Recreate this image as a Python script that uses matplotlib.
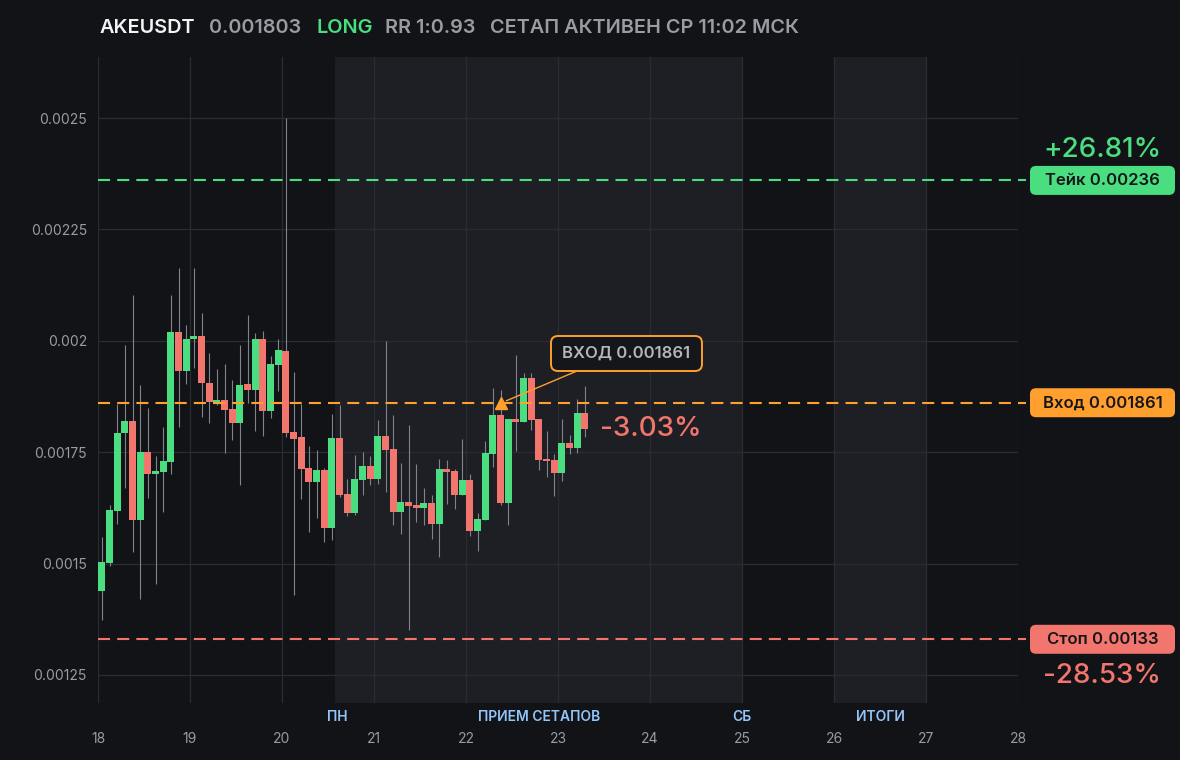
import matplotlib
matplotlib.use("Agg")
import matplotlib.pyplot as plt
from matplotlib.patches import FancyBboxPatch
import numpy as np

# ---------------- data ----------------
symbol = "AKEUSDT"
last_price = "0.001803"
side = "LONG"
rr_text = "RR 1:0.93"
status_text = "СЕТАП АКТИВЕН СР 11:02 МСК"

opens = [0.001438, 0.001501, 0.001618, 0.001792, 0.001821, 0.001598, 0.001751, 0.0017015,
         0.001706, 0.0017285, 0.002019, 0.001933, 0.002003, 0.00201, 0.001906, 0.001862,
         0.001866, 0.001848, 0.001816, 0.001902, 0.00189, 0.002003, 0.001843, 0.001945,
         0.001978, 0.001796, 0.001783, 0.001715, 0.001684, 0.00171, 0.00158, 0.0017825,
         0.001656, 0.001614, 0.001688, 0.00172, 0.00169, 0.001787, 0.0017578, 0.001616,
         0.001638, 0.001632, 0.001625, 0.0016363, 0.001589, 0.001713, 0.0017083, 0.0016543,
         0.001688, 0.001573, 0.001597, 0.0017455, 0.0018333, 0.0016353, 0.0018243, 0.0018175,
         0.0019165, 0.0018243, 0.0017343, 0.001732, 0.0017028, 0.0017703, 0.001759, 0.0018378]
highs = [0.00156, 0.001632, 0.001858, 0.00199, 0.002102, 0.0019, 0.00185, 0.001742,
         0.001807, 0.002102, 0.002163, 0.002035, 0.002163, 0.002062, 0.001972, 0.001936,
         0.001947, 0.001913, 0.00199, 0.002059, 0.0020165, 0.002021, 0.001965, 0.002005,
         0.0025, 0.001931, 0.001859, 0.0017645, 0.0017555, 0.001715, 0.0018365, 0.0018568,
         0.00169, 0.001744, 0.001751, 0.001742, 0.001823, 0.0020, 0.001834, 0.0017263,
         0.0018118, 0.001724, 0.00167, 0.0016543, 0.0017353, 0.001733, 0.001713, 0.00178,
         0.0017015, 0.0016138, 0.0017748, 0.001894, 0.00189, 0.0018243, 0.0019683, 0.0019278,
         0.0019278, 0.001825, 0.0017973, 0.0017455, 0.0018243, 0.0017883, 0.0018693, 0.0018985]
lows = [0.001373, 0.001495, 0.001589, 0.00167, 0.001526, 0.00142, 0.0016475, 0.001454,
        0.001616, 0.0017, 0.001807, 0.001904, 0.00194, 0.00183, 0.001816, 0.001855,
        0.001749, 0.001778, 0.001677, 0.001861, 0.0017983, 0.001787, 0.0018275, 0.001888,
        0.001785, 0.00143, 0.001645, 0.001571, 0.0016015, 0.0015485, 0.001553, 0.00165,
        0.001607, 0.001609, 0.001654, 0.0016768, 0.001679, 0.001661, 0.001587, 0.0015665,
        0.0013505, 0.0015935, 0.0015868, 0.0015553, 0.0015148, 0.001634, 0.0016228, 0.001654,
        0.001562, 0.0015283, 0.001597, 0.0017163, 0.001631, 0.0015858, 0.0017523, 0.0018175,
        0.0017995, 0.0017095, 0.0016938, 0.001651, 0.0016848, 0.0017455, 0.0017478, 0.0017838]
closes = [0.0015035, 0.00162, 0.001794, 0.001821, 0.001598, 0.001751, 0.0017015, 0.001708,
          0.0017308, 0.0020188, 0.0019333, 0.002005, 0.00201, 0.001906, 0.0018635, 0.001866,
          0.0018455, 0.0018163, 0.0019018, 0.00189, 0.002003, 0.0018433, 0.0019468, 0.0019783,
          0.001794, 0.00178, 0.001713, 0.0016835, 0.0017105, 0.00158, 0.0017825, 0.0016543,
          0.0016138, 0.00169, 0.0017195, 0.00169, 0.001787, 0.0017555, 0.001616, 0.0016383,
          0.00163, 0.001625, 0.0016363, 0.001589, 0.001713, 0.0017063, 0.0016543, 0.001688,
          0.0015733, 0.0016003, 0.0017478, 0.0018333, 0.0016353, 0.0018243, 0.0018175, 0.0019165,
          0.001822, 0.001732, 0.0017298, 0.0017028, 0.0017703, 0.001759, 0.0018378, 0.001803]

start_day = 18.0
candle_hours = 2.0

entry_price = 0.001861
take_price = 0.00236
stop_price = 0.00133
entry_candle = 52
take_pct = "+26.81%"
stop_pct = "-28.53%"
current_pct = "-3.03%"

yticks = [0.00125, 0.0015, 0.00175, 0.002, 0.00225, 0.0025]
ytick_labels = ["0.00125", "0.0015", "0.00175", "0.002", "0.00225", "0.0025"]
xticks = [18, 19, 20, 21, 22, 23, 24, 25, 26, 27, 28]

zones = [(20.58, 25.0), (26.0, 27.0)]
zone_labels = [("ПН", 20.6), ("ПРИЕМ СЕТАПОВ", 22.79), ("СБ", 25.0), ("ИТОГИ", 26.5)]

# ---------------- style ----------------
BG = "#121317"
ZONE = "#1e1f24"
GRID = "#2a2c32"
GREEN = "#4ade80"
RED = "#f2756e"
ORANGE = "#ff9f2e"
WICK = "#80838b"
GRAY = "#9a9ca3"
BLUE = "#93c5fd"
FONT = ["Inter", "DejaVu Sans"]

plt.rcParams["font.family"] = FONT

W, H = 1180, 760
fig = plt.figure(figsize=(W / 100, H / 100), dpi=100, facecolor=BG)
ax = fig.add_axes([98 / W, 1 - 703 / H, (1018 - 98) / W, (703 - 57) / H])
ax.set_facecolor(BG)
ax.set_xlim(18, 28)
ax.set_ylim(0.001187, 0.002637)

for a, b in zones:
    ax.axvspan(a, b, color=ZONE, lw=0, zorder=0)

for x in xticks:
    ax.axvline(x, color=GRID, lw=0.9, zorder=0.5)
for y in yticks:
    ax.axhline(y, color=GRID, lw=0.9, zorder=0.5)

for s in ax.spines.values():
    s.set_visible(False)

ax.set_xticks(xticks)
ax.set_xticklabels([str(x) for x in xticks])
ax.set_yticks(yticks)
ax.set_yticklabels(ytick_labels)
ax.tick_params(axis="x", length=0, pad=21, labelsize=10, labelcolor=GRAY)
ax.tick_params(axis="y", length=0, pad=8, labelsize=10, labelcolor=GRAY)

# candles
o = np.array(opens); h = np.array(highs); l = np.array(lows); c = np.array(closes)
t = start_day + (np.arange(len(o)) * candle_hours + candle_hours / 2) / 24.0
up = c >= o
ax.vlines(t, l, h, color=WICK, lw=0.8, zorder=2)
bottoms = np.minimum(o, c)
heights = np.maximum(np.abs(c - o), 3e-6)
ax.bar(t, heights, bottom=bottoms, width=0.076, color=np.where(up, GREEN, RED),
       lw=0, zorder=3)

# level lines
dash = (0, (5.8, 3.4))
for price, col in [(take_price, GREEN), (entry_price, ORANGE), (stop_price, RED)]:
    ax.plot([18, 28.09], [price, price], color=col, lw=1.5, ls=dash, zorder=4, clip_on=False)

# entry marker
ax.plot([t[entry_candle]], [entry_price], marker="^", ms=8.5, color=ORANGE, mec=ORANGE,
        zorder=6, ls="none")

# zone labels
for txt, x in zone_labels:
    ax.text(x, -0.0217, txt, transform=ax.get_xaxis_transform(), ha="center", va="center",
            color=BLUE, fontsize=10, fontweight="semibold")

# current pct
ax.text(t[-1] + 0.16, float(c[-1]), current_pct, ha="left", va="center", color=RED,
        fontsize=20, fontweight="medium", zorder=6)

# ---------------- overlay in pixel coords ----------------
ov = fig.add_axes([0, 0, 1, 1], facecolor="none", zorder=10)
ov.set_xlim(0, W); ov.set_ylim(0, H); ov.axis("off")

def px(xd, yd):
    X, Y = ax.transData.transform((xd, yd))
    return X * W / fig.bbox.width, Y * H / fig.bbox.height

# header
hy = H - 28
header = [(symbol, "#f2f3f5", 100), (last_price, GRAY, 209), (side, GREEN, 316),
          (rr_text, GRAY, 385), (status_text, GRAY, 490)]
for txt, col, x in header:
    ov.text(x, hy, txt, color=col, fontsize=14.3, fontweight="semibold", ha="left", va="center")

# right-side level boxes
def level_box(price, text, col):
    _, yp = px(18, price)
    bw, bh = 145, 29
    box = FancyBboxPatch((1030, yp - bh / 2), bw, bh,
                         boxstyle="round,pad=0,rounding_size=6", fc=col, ec="none")
    ov.add_patch(box)
    ov.text(1030 + bw / 2, yp - 0.5, text, ha="center", va="center", color="#15161a",
            fontsize=12, fontweight="semibold")
    return yp

yt = level_box(take_price, "Тейк 0.00236", GREEN)
ye = level_box(entry_price, "Вход 0.001861", ORANGE)
ys = level_box(stop_price, "Стоп 0.00133", RED)
ov.text(1102, yt + 30, take_pct, ha="center", va="center", color=GREEN, fontsize=20,
        fontweight="medium")
ov.text(1102, ys - 37, stop_pct, ha="center", va="center", color=RED, fontsize=20,
        fontweight="medium")

# entry callout
mx, my = px(t[entry_candle], entry_price)
bx0, by0, bw2, bh2 = 551, H - 371, 151, 35
ov.add_patch(FancyBboxPatch((bx0, by0), bw2, bh2, boxstyle="round,pad=0,rounding_size=7",
                            fc="#15161a", ec=ORANGE, lw=1.4))
ov.text(bx0 + bw2 / 2, by0 + bh2 / 2, "ВХОД 0.001861", ha="center", va="center",
        color="#b4b6bc", fontsize=12, fontweight="semibold")
ov.plot([577, mx + 6], [by0, my + 2], color=ORANGE, lw=1.0)

fig.savefig("out.png", dpi=100, facecolor=BG)
